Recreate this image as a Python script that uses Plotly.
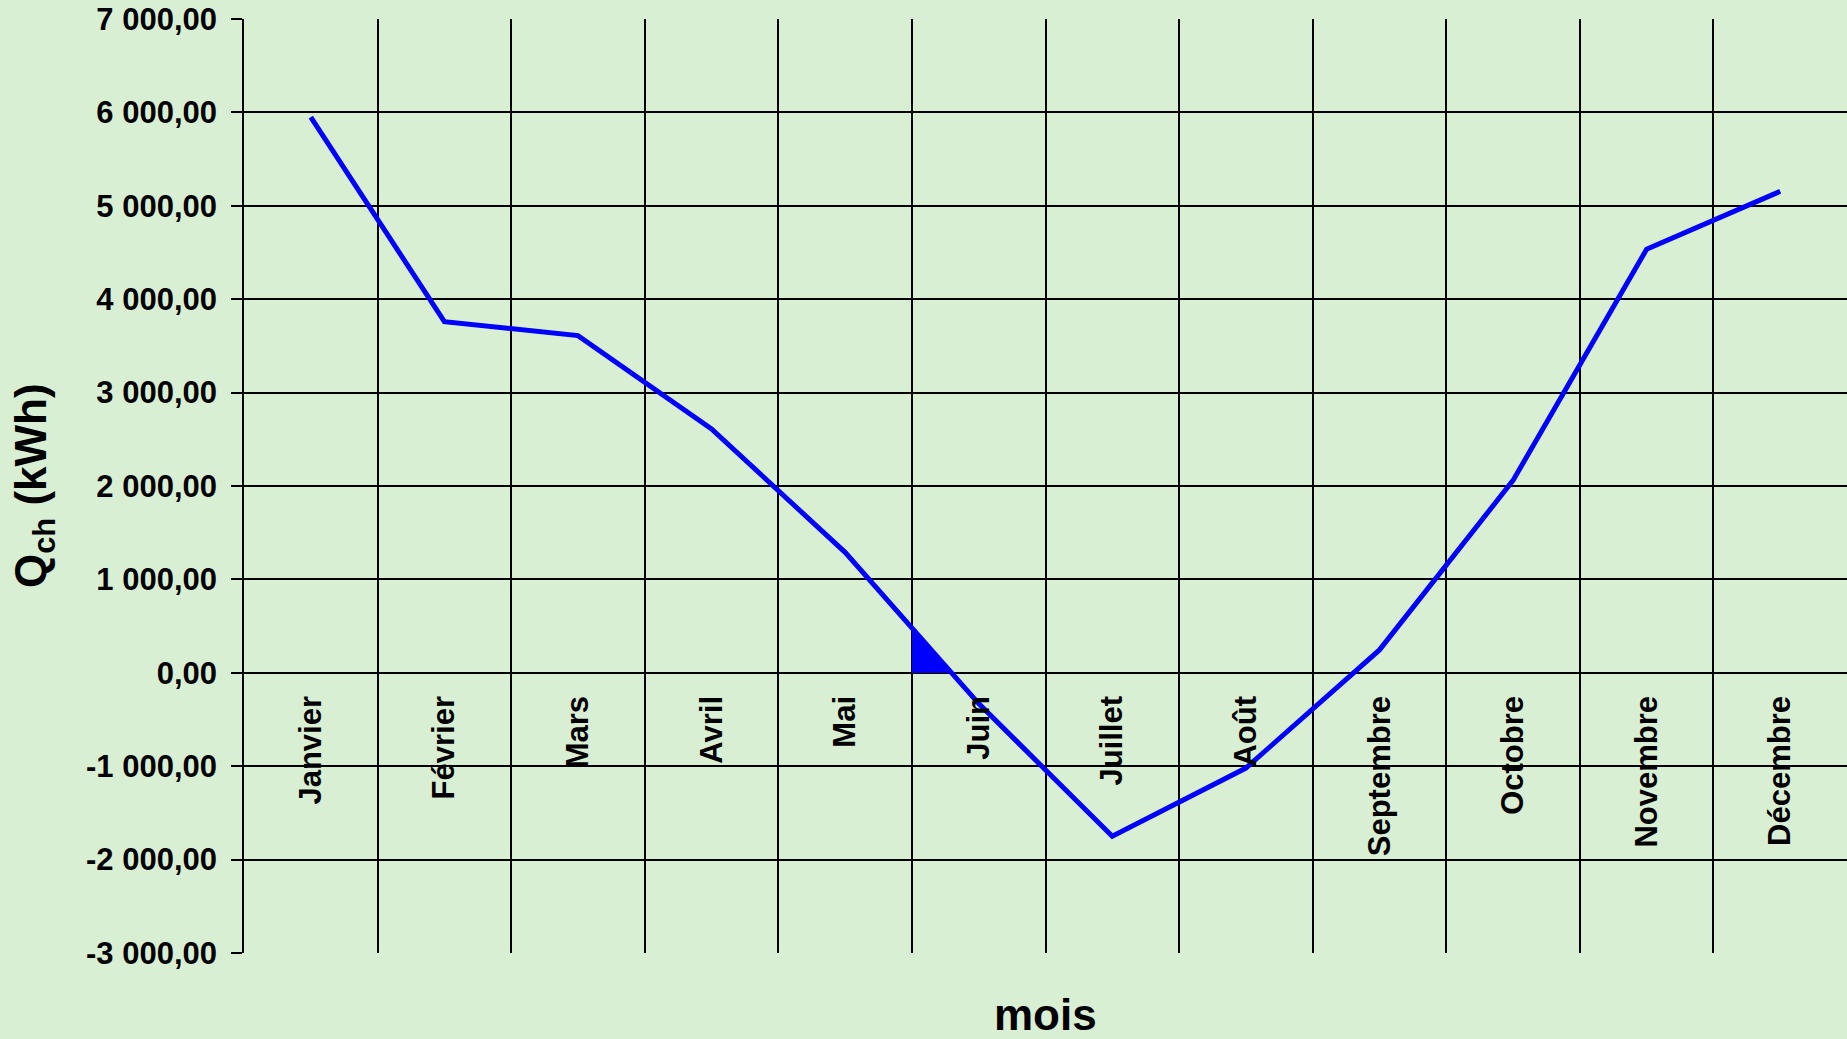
import plotly.graph_objects as go

# ---- data ----
mois = ["Janvier", "Février", "Mars", "Avril", "Mai", "Juin", "Juillet",
        "Août", "Septembre", "Octobre", "Novembre", "Décembre"]
qch_kwh = [5950, 3760, 3610, 2610, 1290, -330, -1750, -1020, 245, 2060, 4535, 5155]

y_tick_vals = [-3000, -2000, -1000, 0, 1000, 2000, 3000, 4000, 5000, 6000, 7000]
y_tick_labels = ["-3 000,00", "-2 000,00", "-1 000,00", "0,00", "1 000,00", "2 000,00",
                 "3 000,00", "4 000,00", "5 000,00", "6 000,00", "7 000,00"]
y_range = [-3000, 7000]

FONT = "Liberation Sans, Arial, Helvetica, sans-serif"
BG = "#d9efd4"

fig = go.Figure()
fig.add_trace(go.Scatter(
    x=mois, y=qch_kwh, mode="lines",
    line=dict(color="#0000ff", width=5),
    hoverinfo="x+y", showlegend=False,
))

# small filled triangle between the Mai/Juin boundary, the zero line and the curve
i = 4
xb = i + 0.5
yb = (qch_kwh[i] + qch_kwh[i + 1]) / 2
xz = i + qch_kwh[i] / (qch_kwh[i] - qch_kwh[i + 1])
fig.add_shape(type="path", xref="x", yref="y",
              path=f"M {xb},0 L {xb},{yb} L {xz},0 Z",
              fillcolor="#0000ff", line=dict(width=0), layer="above")

zero_pos = (0 - y_range[0]) / (y_range[1] - y_range[0])

fig.update_layout(
    width=1847, height=1039, autosize=False,
    margin=dict(l=244, r=0, t=19, b=86, pad=0),
    paper_bgcolor=BG, plot_bgcolor=BG,
    font=dict(family=FONT, color="black"),
    xaxis=dict(
        type="category", range=[-0.5, 11.5],
        tickson="boundaries", showgrid=True, gridcolor="black", gridwidth=1.6,
        ticks="", showline=False, zeroline=False,
        anchor="free", position=zero_pos, side="bottom",
        tickangle=-90, ticklabelstandoff=16,
        tickfont=dict(family=FONT, size=31, color="black", weight="bold"),
        automargin=False, fixedrange=True,
    ),
    yaxis=dict(
        range=y_range, tickvals=y_tick_vals, ticktext=y_tick_labels,
        showgrid=True, gridcolor="black", gridwidth=1.6,
        zeroline=False, showline=True, linecolor="black", linewidth=1.6,
        ticks="outside", ticklen=11, tickwidth=1.6, tickcolor="black",
        ticklabelstandoff=8,
        tickfont=dict(family=FONT, size=31, color="black", weight="bold"),
        automargin=False, fixedrange=True,
    ),
    annotations=[
        dict(text="Q<sub>ch</sub> (kWh)", xref="paper", yref="paper",
             x=(34 - 244) / 1603, y=0.5, xanchor="center", yanchor="middle",
             textangle=-90, showarrow=False,
             font=dict(family=FONT, size=44, color="black", weight="bold")),
        dict(text="mois", xref="paper", yref="paper",
             x=0.5, y=-(1014 - 953) / 934, xanchor="center", yanchor="middle",
             showarrow=False,
             font=dict(family=FONT, size=44, color="black", weight="bold")),
    ],
)

fig.write_html("out.html", config={"displayModeBar": False},
               post_script="document.body.style.margin='0';document.body.style.overflow='hidden';")
